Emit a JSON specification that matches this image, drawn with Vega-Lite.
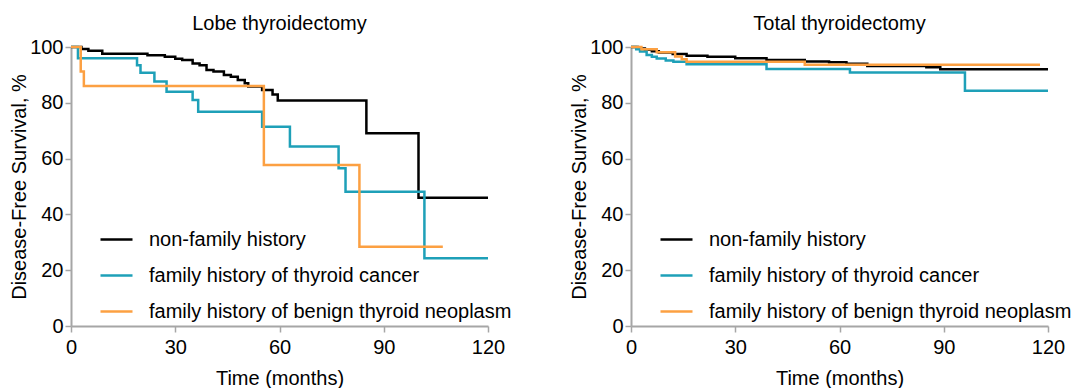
{
  "$schema": "https://vega.github.io/schema/vega-lite/v6.json",
  "padding": {"left": 9, "top": 14, "right": 0, "bottom": 0},
  "config": {
    "font": "Liberation Sans",
    "view": {"stroke": null},
    "axis": {"grid": false, "labelFlush": false, "domainColor": "#a6a6a6", "domainWidth": 2, "tickColor": "#a6a6a6", "tickWidth": 1.5, "tickSize": 6, "labelFontSize": 20, "labelColor": "#000", "titleFontSize": 20, "titleFontWeight": "normal", "titleColor": "#000", "labelPadding": 2},
    "title": {"fontSize": 20, "fontWeight": "normal", "color": "#000", "offset": 3},
    "legend": {"orient": "none", "legendX": 28, "legendY": 175, "symbolType": "stroke", "symbolSize": 1024, "symbolStrokeWidth": 2.5, "labelFontSize": 20, "labelColor": "#000", "rowPadding": 8, "padding": 0, "labelOffset": 15, "labelLimit": 500}
  },
  "data": {"values": [
    {"panel": "L", "g": "non-family history", "t": 0, "s": 100},
    {"panel": "L", "g": "non-family history", "t": 3, "s": 99.3},
    {"panel": "L", "g": "non-family history", "t": 5, "s": 98.7},
    {"panel": "L", "g": "non-family history", "t": 9, "s": 97.6},
    {"panel": "L", "g": "non-family history", "t": 22, "s": 97.0},
    {"panel": "L", "g": "non-family history", "t": 27, "s": 96.5},
    {"panel": "L", "g": "non-family history", "t": 30, "s": 95.8},
    {"panel": "L", "g": "non-family history", "t": 32, "s": 95.3},
    {"panel": "L", "g": "non-family history", "t": 35, "s": 94.1},
    {"panel": "L", "g": "non-family history", "t": 37, "s": 93.5},
    {"panel": "L", "g": "non-family history", "t": 39, "s": 91.8},
    {"panel": "L", "g": "non-family history", "t": 41, "s": 91.2},
    {"panel": "L", "g": "non-family history", "t": 44, "s": 90.0},
    {"panel": "L", "g": "non-family history", "t": 46, "s": 89.3},
    {"panel": "L", "g": "non-family history", "t": 48, "s": 88.2},
    {"panel": "L", "g": "non-family history", "t": 50, "s": 87.0},
    {"panel": "L", "g": "non-family history", "t": 51, "s": 85.8},
    {"panel": "L", "g": "non-family history", "t": 55, "s": 84.6},
    {"panel": "L", "g": "non-family history", "t": 58, "s": 83.0},
    {"panel": "L", "g": "non-family history", "t": 59.5, "s": 80.8},
    {"panel": "L", "g": "non-family history", "t": 85, "s": 69.1},
    {"panel": "L", "g": "non-family history", "t": 100, "s": 46.0},
    {"panel": "L", "g": "non-family history", "t": 120, "s": 46.0},
    {"panel": "L", "g": "family history of thyroid cancer", "t": 0, "s": 100},
    {"panel": "L", "g": "family history of thyroid cancer", "t": 2, "s": 96.0},
    {"panel": "L", "g": "family history of thyroid cancer", "t": 19, "s": 93.5},
    {"panel": "L", "g": "family history of thyroid cancer", "t": 20, "s": 90.8},
    {"panel": "L", "g": "family history of thyroid cancer", "t": 24, "s": 87.6},
    {"panel": "L", "g": "family history of thyroid cancer", "t": 27.5, "s": 84.0},
    {"panel": "L", "g": "family history of thyroid cancer", "t": 35, "s": 81.0},
    {"panel": "L", "g": "family history of thyroid cancer", "t": 36.6, "s": 76.8},
    {"panel": "L", "g": "family history of thyroid cancer", "t": 55, "s": 71.4},
    {"panel": "L", "g": "family history of thyroid cancer", "t": 63, "s": 64.3},
    {"panel": "L", "g": "family history of thyroid cancer", "t": 77, "s": 56.5},
    {"panel": "L", "g": "family history of thyroid cancer", "t": 79, "s": 48.1},
    {"panel": "L", "g": "family history of thyroid cancer", "t": 101.7, "s": 24.3},
    {"panel": "L", "g": "family history of thyroid cancer", "t": 120, "s": 24.3},
    {"panel": "L", "g": "family history of benign thyroid neoplasm", "t": 0, "s": 100},
    {"panel": "L", "g": "family history of benign thyroid neoplasm", "t": 2.8, "s": 91.2},
    {"panel": "L", "g": "family history of benign thyroid neoplasm", "t": 3.7, "s": 86.0},
    {"panel": "L", "g": "family history of benign thyroid neoplasm", "t": 55.5, "s": 57.7},
    {"panel": "L", "g": "family history of benign thyroid neoplasm", "t": 83, "s": 28.4},
    {"panel": "L", "g": "family history of benign thyroid neoplasm", "t": 107, "s": 28.4},
    {"panel": "R", "g": "non-family history", "t": 0, "s": 100},
    {"panel": "R", "g": "non-family history", "t": 2, "s": 99.5},
    {"panel": "R", "g": "non-family history", "t": 4, "s": 99.0},
    {"panel": "R", "g": "non-family history", "t": 6, "s": 98.5},
    {"panel": "R", "g": "non-family history", "t": 8, "s": 98.0},
    {"panel": "R", "g": "non-family history", "t": 12, "s": 97.5},
    {"panel": "R", "g": "non-family history", "t": 16, "s": 96.9},
    {"panel": "R", "g": "non-family history", "t": 22, "s": 96.5},
    {"panel": "R", "g": "non-family history", "t": 30, "s": 96.0},
    {"panel": "R", "g": "non-family history", "t": 39, "s": 95.3},
    {"panel": "R", "g": "non-family history", "t": 50, "s": 94.8},
    {"panel": "R", "g": "non-family history", "t": 57, "s": 94.5},
    {"panel": "R", "g": "non-family history", "t": 62, "s": 94.0},
    {"panel": "R", "g": "non-family history", "t": 68, "s": 93.2},
    {"panel": "R", "g": "non-family history", "t": 85, "s": 92.7},
    {"panel": "R", "g": "non-family history", "t": 89, "s": 92.0},
    {"panel": "R", "g": "non-family history", "t": 120, "s": 92.0},
    {"panel": "R", "g": "family history of thyroid cancer", "t": 0, "s": 100},
    {"panel": "R", "g": "family history of thyroid cancer", "t": 1.5, "s": 99.2},
    {"panel": "R", "g": "family history of thyroid cancer", "t": 2.6, "s": 98.4},
    {"panel": "R", "g": "family history of thyroid cancer", "t": 4.5, "s": 97.1},
    {"panel": "R", "g": "family history of thyroid cancer", "t": 6, "s": 96.5},
    {"panel": "R", "g": "family history of thyroid cancer", "t": 7.4, "s": 95.9},
    {"panel": "R", "g": "family history of thyroid cancer", "t": 10, "s": 95.2},
    {"panel": "R", "g": "family history of thyroid cancer", "t": 12.2, "s": 94.7},
    {"panel": "R", "g": "family history of thyroid cancer", "t": 16, "s": 93.8},
    {"panel": "R", "g": "family history of thyroid cancer", "t": 39, "s": 92.1},
    {"panel": "R", "g": "family history of thyroid cancer", "t": 63, "s": 90.9},
    {"panel": "R", "g": "family history of thyroid cancer", "t": 96.1, "s": 84.3},
    {"panel": "R", "g": "family history of thyroid cancer", "t": 120, "s": 84.3},
    {"panel": "R", "g": "family history of benign thyroid neoplasm", "t": 0, "s": 100},
    {"panel": "R", "g": "family history of benign thyroid neoplasm", "t": 3, "s": 99.2},
    {"panel": "R", "g": "family history of benign thyroid neoplasm", "t": 7.4, "s": 98.1},
    {"panel": "R", "g": "family history of benign thyroid neoplasm", "t": 12.7, "s": 96.6},
    {"panel": "R", "g": "family history of benign thyroid neoplasm", "t": 14.6, "s": 95.6},
    {"panel": "R", "g": "family history of benign thyroid neoplasm", "t": 16, "s": 94.7},
    {"panel": "R", "g": "family history of benign thyroid neoplasm", "t": 50, "s": 93.6},
    {"panel": "R", "g": "family history of benign thyroid neoplasm", "t": 117.7, "s": 93.6}
  ]},
  "bounds": "flush",
  "spacing": 143,
  "hconcat": [
    {
      "title": "Lobe thyroidectomy",
      "width": 417, "height": 279,
      "transform": [{"filter": "datum.panel == 'L'"}],
      "mark": {"type": "line", "interpolate": "step-after", "strokeWidth": 2.5},
      "encoding": {
        "x": {"field": "t", "type": "quantitative", "title": "Time (months)", "scale": {"domain": [0, 120]}, "axis": {"values": [0, 30, 60, 90, 120], "labelPadding": 5, "titlePadding": 11}},
        "y": {"field": "s", "type": "quantitative", "title": "Disease-Free Survival, %", "scale": {"domain": [0, 100]}, "axis": {"values": [0, 20, 40, 60, 80, 100], "titlePadding": 0}},
        "color": {"field": "g", "type": "nominal", "scale": {"domain": ["non-family history", "family history of thyroid cancer", "family history of benign thyroid neoplasm"], "range": ["#000000", "#1ea0b8", "#fca042"]}, "legend": {"title": null}}
      }
    },
    {
      "title": "Total thyroidectomy",
      "width": 417, "height": 279,
      "transform": [{"filter": "datum.panel == 'R'"}],
      "mark": {"type": "line", "interpolate": "step-after", "strokeWidth": 2.5},
      "encoding": {
        "x": {"field": "t", "type": "quantitative", "title": "Time (months)", "scale": {"domain": [0, 120]}, "axis": {"values": [0, 30, 60, 90, 120], "labelPadding": 5, "titlePadding": 11}},
        "y": {"field": "s", "type": "quantitative", "title": "Disease-Free Survival, %", "scale": {"domain": [0, 100]}, "axis": {"values": [0, 20, 40, 60, 80, 100], "titlePadding": 0}},
        "color": {"field": "g", "type": "nominal", "scale": {"domain": ["non-family history", "family history of thyroid cancer", "family history of benign thyroid neoplasm"], "range": ["#000000", "#1ea0b8", "#fca042"]}, "legend": {"title": null}}
      }
    }
  ],
  "resolve": {"legend": {"color": "independent"}}
}
